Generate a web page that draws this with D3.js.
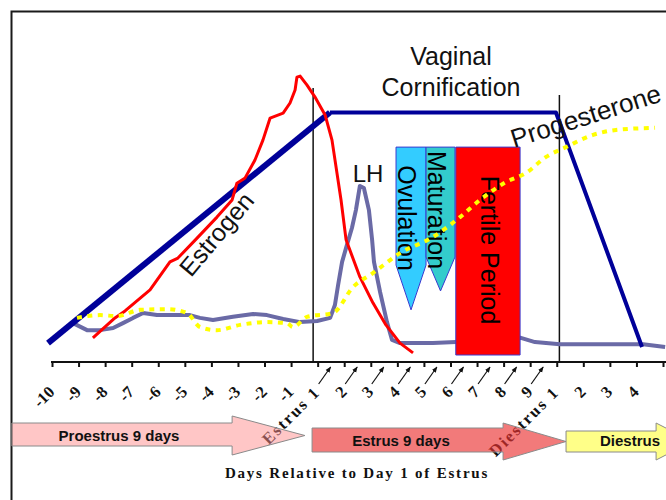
<!DOCTYPE html>
<html>
<head>
<meta charset="utf-8">
<script src="https://cdn.jsdelivr.net/npm/d3@7"></script>
<style>
body { margin: 0; background: #fff; }
svg { display: block; }
</style>
</head>
<body>
<div id="chart"></div>
<script>
// day axis: -10..-1 proestrus, 0 = estrus day 1, 9 = diestrus day 1
var tickDays = d3.range(-10, 14);
var tickLabels = ["-10", "-9", "-8", "-7", "-6", "-5", "-4", "-3", "-2", "-1",
    "Estrus 1", "2", "3", "4", "5", "6", "7", "8", "9",
    "Diestrus 1", "2", "3", "4", ""];
var arrowDays = [0, 1, 2, 3, 4, 5, 6, 7, 8];

// vaginal cornification (relative level 0..100)
var cornDays = [-10.15, 0.46, 8.97, 12.21];
var cornLevel = [5.4, 71.3, 71.3, 4.3];

// estrogen
var estDays = [-8.46, -7.63, -7.25, -6.31, -5.56, -5.26, -4.54, -3.79, -3.22, -3.04, -2.73, -2.36,
    -2.06, -1.79, -1.30, -1.04, -0.85, -0.78, -0.66, -0.40, -0.10, 0.28, 0.54, 0.88, 1.07,
    1.59, 2.08, 2.57, 3.10, 3.59];
var estLevel = [6.9, 12.6, 14.6, 20.6, 28.6, 29.7, 35.4, 41.4, 46.3, 51.1, 52.6, 57.7,
    63.4, 69.7, 71.1, 74.0, 77.7, 81.4, 81.7, 79.1, 75.7, 70.6, 63.4, 46.3, 34.9,
    24.3, 16.9, 10.6, 5.4, 2.6];

// LH
var lhDays = [-9.44, -9.21, -8.68, -8.19, -7.70, -7.33, -6.95, -6.57, -6.05, -5.29, -4.81, -4.43,
    -3.94, -3.19, -2.43, -1.91, -1.30, -0.66, -0.02, 0.47, 0.65, 0.77, 0.92, 1.10, 1.29,
    1.44, 1.59, 1.74, 1.93, 2.05, 2.12, 2.35, 2.61, 2.80, 3.10, 4.34, 5.21, 5.73, 6.86,
    7.65, 8.18, 9.12, 10.63, 12.25, 13.08];
var lhLevel = [10.0, 11.1, 9.1, 9.1, 9.7, 11.1, 12.6, 14.0, 13.4, 13.4, 13.4, 12.6,
    12.0, 12.9, 13.7, 13.4, 12.3, 11.4, 11.7, 12.6, 16.3, 22.0, 28.6, 33.4, 38.3,
    43.4, 50.3, 49.7, 43.4, 34.9, 28.6, 20.0, 11.4, 6.3, 5.4, 5.4, 5.7, 5.7, 6.0,
    6.9, 5.7, 5.1, 5.1, 5.1, 4.3];

// progesterone
var progDays = [-9.06, -8.19, -7.55, -6.69, -5.67, -4.92, -4.43, -3.79, -2.92, -1.91, -1.15, -0.93,
    -0.40, 0.58, 1.33, 2.08, 3.10, 4.34, 5.36, 6.11, 7.09, 7.84, 8.60, 9.35, 10.37, 11.23, 12.70];
var progLevel = [12.6, 13.4, 13.1, 14.9, 15.1, 14.0, 10.0, 9.1, 10.6, 11.4, 11.1, 10.0,
    12.9, 14.0, 21.4, 25.4, 31.1, 35.7, 41.4, 46.3, 51.4, 54.0, 58.6, 61.4, 64.9, 66.3, 66.9];

// windows
var boxNames = ["Ovulation", "Maturation", "Fertile Period"];
var boxStart = [2.95, 4.08, 5.20];
var boxEnd = [4.08, 5.17, 7.62];
var boxTop = [61.4, 61.4, 61.4];
var boxBottom = [27.7, 30.0, 2.0];
var boxTip = [14.9, 20.3, 2.0];
var boxColors = ["#33ccff", "#33cccc", "#ff0000"];

// stage boundaries
var stageLineDays = [-0.17, 9.10];
var stageLineTop = [78.3, 76.3];

// stage arrows
var stageNames = ["Proestrus 9 days", "Estrus 9 days", "Diestrus"];
var stageStart = [-11.51, -0.21, 9.35];
var stageHead = [-3.22, 6.98, 12.74];
var stageTip = [-0.48, 9.35, 14.1];
var stageColors = ["#ff8d8d", "#eb3333", "#ffff88"];
var stageOpacity = [0.5, 0.65, 1];

var width = 666, height = 500;
var sans = "'Liberation Sans', Arial, sans-serif";
var serif = "'Liberation Serif', 'Times New Roman', serif";

var svg = d3.select("#chart").append("svg")
    .attr("width", width)
    .attr("height", height);

var x = d3.scaleLinear().domain([-10, 13]).range([52, 663]);
var y = d3.scaleLinear().domain([0, 100]).range([362, 12]);

svg.append("defs").append("marker")
    .attr("id", "arr")
    .attr("viewBox", "0 0 10 10")
    .attr("refX", 9).attr("refY", 5)
    .attr("markerWidth", 5).attr("markerHeight", 5)
    .attr("orient", "auto")
    .append("path")
    .attr("d", "M0,1 L10,5 L0,9 Z")
    .attr("fill", "#111");

// frame
svg.append("path")
    .attr("d", "M11.5,500 L11.5,11.5 L666,11.5")
    .attr("fill", "none")
    .attr("stroke", "#1a1a1a")
    .attr("stroke-width", 2);

// stage boundary lines
stageLineDays.forEach(function(d, i) {
    svg.append("line")
        .attr("x1", x(d)).attr("x2", x(d))
        .attr("y1", y(stageLineTop[i])).attr("y2", y(0))
        .attr("stroke", "#111")
        .attr("stroke-width", 1.5);
});

var line = d3.line()
    .x(function(d) { return x(d[0]); })
    .y(function(d) { return y(d[1]); });

// LH
svg.append("path")
    .datum(d3.zip(lhDays, lhLevel))
    .attr("d", line)
    .attr("fill", "none")
    .attr("stroke", "#6a6aa6")
    .attr("stroke-width", 4)
    .attr("stroke-linejoin", "round");

// windows
boxNames.forEach(function(name, i) {
    var x0 = x(boxStart[i]), x1 = x(boxEnd[i]);
    var path = "M" + x0 + "," + y(boxTop[i]) +
        "L" + x1 + "," + y(boxTop[i]) +
        "L" + x1 + "," + y(boxBottom[i]) +
        "L" + ((x0 + x1) / 2) + "," + y(boxTip[i]) +
        "L" + x0 + "," + y(boxBottom[i]) + "Z";
    svg.append("path")
        .attr("d", path)
        .attr("fill", boxColors[i])
        .attr("stroke", "#3a3ad0")
        .attr("stroke-width", 1);
});
// labels inside the windows (rotated)
var boxLabelPos = [[-4, 218], [-4, 210], [2, 250]];
boxNames.forEach(function(name, i) {
    var cx = (x(boxStart[i]) + x(boxEnd[i])) / 2 + boxLabelPos[i][0];
    svg.append("text")
        .attr("transform", "translate(" + cx + "," + boxLabelPos[i][1] + ") rotate(90)")
        .attr("text-anchor", "middle")
        .attr("dy", "0.35em")
        .style("font-family", sans)
        .style("font-size", "25px")
        .attr("fill", "#000")
        .text(name);
});

// vaginal cornification
var corn = d3.zip(cornDays, cornLevel);
svg.append("path")
    .datum(corn.slice(0, 2))
    .attr("d", line)
    .attr("fill", "none")
    .attr("stroke", "#000099")
    .attr("stroke-width", 6);
svg.append("path")
    .datum(corn.slice(1))
    .attr("d", line)
    .attr("fill", "none")
    .attr("stroke", "#000099")
    .attr("stroke-width", 4)
    .attr("stroke-linejoin", "round");

// estrogen
svg.append("path")
    .datum(d3.zip(estDays, estLevel))
    .attr("d", line)
    .attr("fill", "none")
    .attr("stroke", "#ff0000")
    .attr("stroke-width", 3)
    .attr("stroke-linejoin", "round");

// progesterone
svg.append("path")
    .datum(d3.zip(progDays, progLevel))
    .attr("d", line.curve(d3.curveMonotoneX))
    .attr("fill", "none")
    .attr("stroke", "#ffff00")
    .attr("stroke-width", 4)
    .attr("stroke-dasharray", "5,5.5");
line.curve(d3.curveLinear);

// axis
var axis = svg.append("g")
    .attr("transform", "translate(0," + y(0) + ")")
    .call(d3.axisBottom(x)
        .tickValues(tickDays)
        .tickSize(5)
        .tickFormat(function(d, i) { return tickLabels[i]; }));
axis.select(".domain").remove();
axis.append("line")
    .attr("x1", x(-10) - 1).attr("x2", width)
    .attr("stroke", "#111")
    .attr("stroke-width", 2);
axis.selectAll(".tick line")
    .attr("stroke", "#111")
    .attr("stroke-width", 2);
axis.selectAll(".tick text")
    .attr("y", null)
    .attr("dy", null)
    .attr("text-anchor", "end")
    .attr("transform", "translate(3,31) rotate(-45)")
    .style("font-family", serif)
    .style("font-size", "16.5px")
    .style("font-weight", "bold")
    .style("letter-spacing", function(d, i) { return tickLabels[i].length > 3 ? "2px" : "0px"; })
    .attr("fill", "#111");

// little arrows under the estrus days
arrowDays.forEach(function(d) {
    svg.append("line")
        .attr("x1", x(d) + 1).attr("y1", 384)
        .attr("x2", x(d) + 13).attr("y2", 367)
        .attr("stroke", "#111")
        .attr("stroke-width", 1.2)
        .attr("marker-end", "url(#arr)");
});

// stage arrows
var bodyTop = [423, 428, 431], bodyBot = [446, 452, 452];
var headTop = [416, 423, 423], headBot = [455, 460, 460];
stageNames.forEach(function(name, i) {
    var x0 = x(stageStart[i]), xh = x(stageHead[i]), xt = x(stageTip[i]);
    var mid = (headTop[i] + headBot[i]) / 2;
    var path = "M" + x0 + "," + bodyTop[i] +
        "L" + xh + "," + bodyTop[i] +
        "L" + xh + "," + headTop[i] +
        "L" + xt + "," + mid +
        "L" + xh + "," + headBot[i] +
        "L" + xh + "," + bodyBot[i] +
        "L" + x0 + "," + bodyBot[i] + "Z";
    svg.append("path")
        .attr("d", path)
        .attr("fill", stageColors[i])
        .attr("fill-opacity", stageOpacity[i])
        .attr("stroke", "#8a8a8a")
        .attr("stroke-width", 1);
});
var stageTextX = [119, 401, 630], stageTextY = [441, 446, 446];
stageNames.forEach(function(name, i) {
    svg.append("text")
        .attr("x", stageTextX[i]).attr("y", stageTextY[i])
        .attr("text-anchor", "middle")
        .style("font-family", sans)
        .style("font-size", "15px")
        .style("font-weight", "bold")
        .attr("fill", "#111")
        .text(name);
});

// axis title
svg.append("text")
    .attr("x", 357).attr("y", 478)
    .attr("text-anchor", "middle")
    .style("font-family", serif)
    .style("font-size", "15px")
    .style("font-weight", "bold")
    .style("letter-spacing", "1.8px")
    .attr("fill", "#111")
    .text("Days Relative to Day 1 of Estrus");

// annotations
function label(txt, tx, ty, rot, anchor, size) {
    svg.append("text")
        .attr("transform", "translate(" + tx + "," + ty + ") rotate(" + rot + ")")
        .attr("text-anchor", anchor)
        .style("font-family", sans)
        .style("font-size", size + "px")
        .attr("fill", "#111")
        .text(txt);
}
label("Vaginal", 451, 65, 0, "middle", 25);
label("Cornification", 451, 96, 0, "middle", 25);
label("LH", 368, 182, 0, "middle", 24);
label("Estrogen", 191, 278, -50, "start", 25);
label("Progesterone", 514, 148, -17.5, "start", 26);
</script>
</body>
</html>
